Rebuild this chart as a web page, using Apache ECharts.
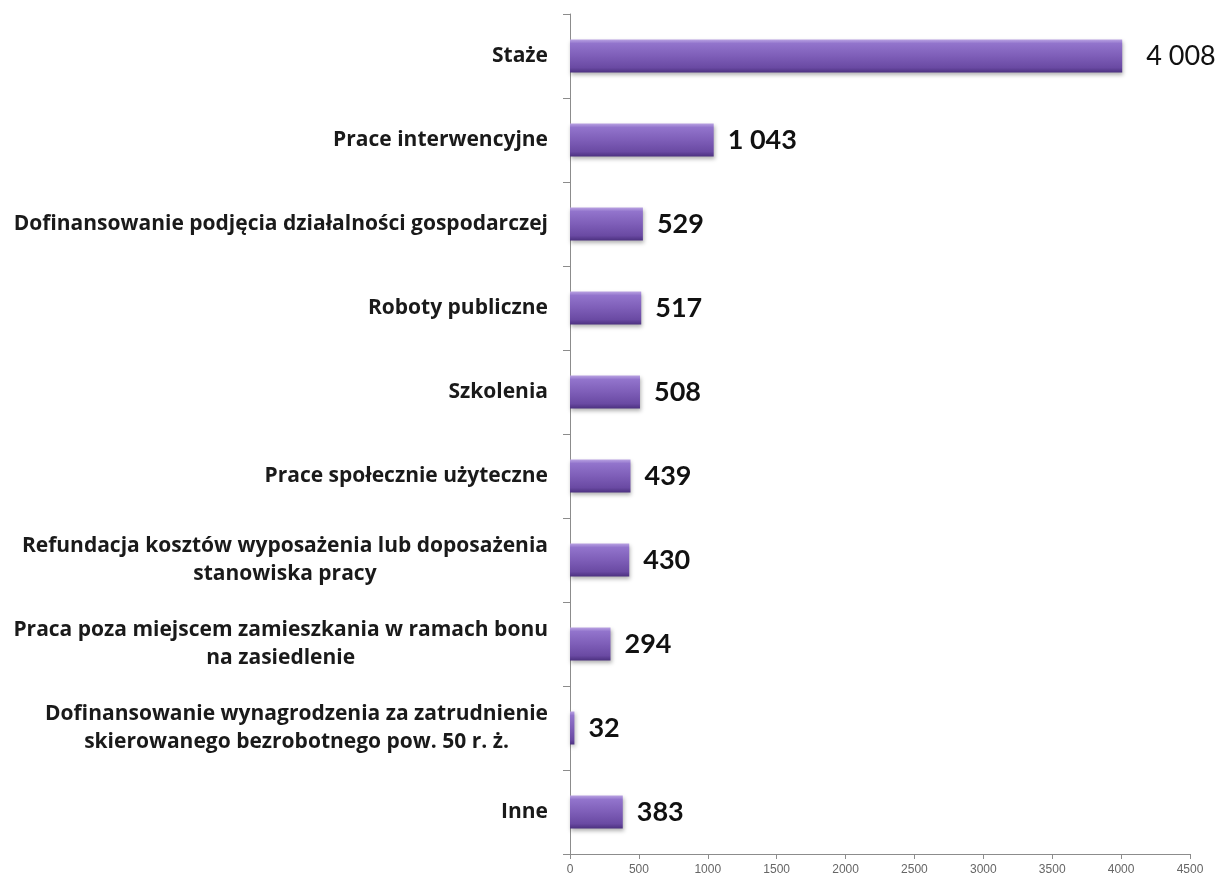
<!DOCTYPE html>
<html>
<head>
<meta charset="utf-8">
<script src="https://cdn.jsdelivr.net/npm/echarts@6/dist/echarts.min.js"></script>
<style>
html,body{margin:0;padding:0;background:#fff;}
#chart{width:1219px;height:881px;}
</style>
</head>
<body>
<div id="chart"></div>
<script>
const categories = [
  "Staże",
  "Prace interwencyjne",
  "Dofinansowanie podjęcia działalności gospodarczej",
  "Roboty publiczne",
  "Szkolenia",
  "Prace społecznie użyteczne",
  "Refundacja kosztów wyposażenia lub doposażenia\nstanowiska pracy",
  "Praca poza miejscem zamieszkania w ramach bonu\nna zasiedlenie",
  "Dofinansowanie wynagrodzenia za zatrudnienie\nskierowanego bezrobotnego pow. 50 r. ż.",
  "Inne"
];
const values = [4008, 1043, 529, 517, 508, 439, 430, 294, 32, 383];
const xTicks = [0, 500, 1000, 1500, 2000, 2500, 3000, 3500, 4000, 4500];

function fmt(v){ return String(v).replace(/\B(?=(\d{3})+(?!\d))/g, ' '); }

const chart = echarts.init(document.getElementById('chart'));
const barColor = new echarts.graphic.LinearGradient(0,0,0,1,[
  {offset:0, color:'#b9a2e2'},
  {offset:0.12, color:'#9274cc'},
  {offset:0.5, color:'#7e5eb8'},
  {offset:0.85, color:'#6a4aa3'},
  {offset:1, color:'#4c3180'}
]);
chart.setOption({
  animation:false,
  grid:{left:570, right:29, top:14, bottom:27, containLabel:false},
  xAxis:{
    type:'value', min:xTicks[0], max:xTicks[xTicks.length-1], interval:500,
    splitLine:{show:false},
    axisLine:{show:true, lineStyle:{color:'#8c8c8c', width:1}},
    axisTick:{show:true, length:5, lineStyle:{color:'#8c8c8c'}},
    axisLabel:{color:'#666', fontSize:12, fontFamily:'Liberation Sans Narrow, Liberation Sans', margin:10,
      formatter:v=>String(v)}
  },
  yAxis:{
    type:'category', inverse:true, data:categories,
    axisLine:{show:true, lineStyle:{color:'#8c8c8c', width:1}},
    axisTick:{show:true, inside:false, length:7, lineStyle:{color:'#8c8c8c'}},
    axisLabel:{
      margin:22,
      formatter:function(v){ return v.split('\n').map(s=>'{a|'+s+'}').join('\n'); },
      rich:{a:{fontFamily:'Open Sans', fontWeight:'bold', fontSize:21, color:'#1a1a1a', lineHeight:28, align:'center'}}
    }
  },
  series:[{
    type:'bar',
    data:values.map((v,i)=>({value:v, label: i===0 ? {fontWeight:'normal', distance:24} : {}})),
    barWidth:33,
    itemStyle:{color:barColor, shadowColor:'rgba(0,0,0,0.3)', shadowBlur:4, shadowOffsetY:2, shadowOffsetX:1},
    label:{show:true, position:'right', distance:14, formatter:p=>fmt(p.value),
      fontFamily:'Lato', fontWeight:'bold', fontSize:27, color:'#111'}
  }]
});
</script>
</body>
</html>
